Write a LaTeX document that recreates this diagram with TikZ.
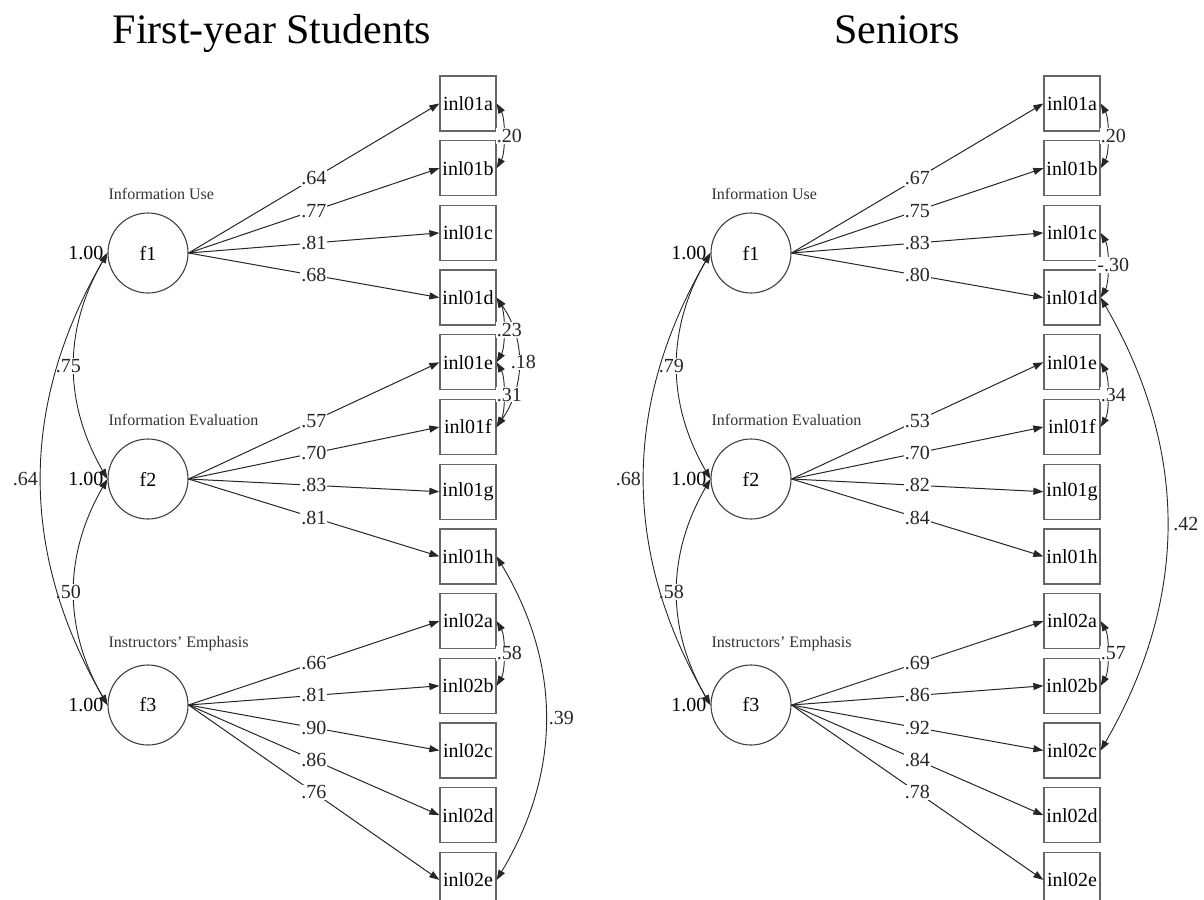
\documentclass[tikz,border=0pt]{standalone}
\usepackage{fontspec}
\setmainfont{Liberation Serif}
\usetikzlibrary{arrows.meta,positioning,calc}

\begin{document}
\begin{tikzpicture}[
  x=1pt, y=-1pt,
  font=\fontsize{20}{23}\selectfont,
  latent/.style={draw=black!75,circle,minimum size=80pt,inner sep=0pt,line width=1.1pt},
  ind/.style={draw=black!60,minimum width=56pt,minimum height=55pt,inner sep=0pt,line width=1.3pt,font=\fontsize{20}{23}\selectfont},
  load/.style={-{Triangle[length=10pt,width=7pt]},black!85,line width=1pt},
  cov/.style={{Triangle[length=10pt,width=7pt]}-{Triangle[length=10pt,width=7pt]},black!85,line width=0.9pt},
  est/.style={fill=white,inner sep=1pt},
  var/.style={inner sep=1pt},
  flabel/.style={font=\fontsize{16}{19}\selectfont,text=black!80,inner sep=1pt,anchor=south west},
  ttl/.style={font=\fontsize{42}{48}\selectfont,anchor=base},
]
\clip (0,0) rectangle (1204,899);

% titles
\node[ttl] (tfy) at (272,44) {First-year Students};
\node[ttl] (tsr) at (897,44) {Seniors};

% indicators
\foreach \n [count=\k from 0] in {01a,01b,01c,01d,01e,01f,01g,01h,02a,02b,02c,02d,02e} {
  \node[ind] (fy\n) at (468,{103.5+64.7*\k}) {inl\n};
  \node[ind] (sr\n) at (1072,{103.5+64.7*\k}) {inl\n};
}

% factors, first-year students
\node[latent] (fyf1) at (148,253) {f1};
\node[latent] (fyf2) at (148,479) {f2};
\node[latent] (fyf3) at (148,705) {f3};
\node[flabel] (fyl1) at ([yshift=12pt]fyf1.north -| fyf1.west) {Information Use};
\node[flabel] (fyl2) at ([yshift=12pt]fyf2.north -| fyf2.west) {Information Evaluation};
\node[flabel] (fyl3) at ([yshift=12pt]fyf3.north -| fyf3.west) {Instructors' Emphasis};
\node[var,left=3pt of fyf1.west] (fyv1) {1.00};
\node[var,left=3pt of fyf2.west] (fyv2) {1.00};
\node[var,left=3pt of fyf3.west] (fyv3) {1.00};

% factors, seniors
\node[latent] (srf1) at (751,253) {f1};
\node[latent] (srf2) at (751,479) {f2};
\node[latent] (srf3) at (751,705) {f3};
\node[flabel] (srl1) at ([yshift=12pt]srf1.north -| srf1.west) {Information Use};
\node[flabel] (srl2) at ([yshift=12pt]srf2.north -| srf2.west) {Information Evaluation};
\node[flabel] (srl3) at ([yshift=12pt]srf3.north -| srf3.west) {Instructors' Emphasis};
\node[var,left=3pt of srf1.west] (srv1) {1.00};
\node[var,left=3pt of srf2.west] (srv2) {1.00};
\node[var,left=3pt of srf3.west] (srv3) {1.00};

% loadings
\foreach \n/\v in {01a/.64,01b/.77,01c/.81,01d/.68}
  \draw[load] (fyf1.east) -- node[est]{\v} (fy\n.west);
\foreach \n/\v in {01e/.57,01f/.70,01g/.83,01h/.81}
  \draw[load] (fyf2.east) -- node[est]{\v} (fy\n.west);
\foreach \n/\v in {02a/.66,02b/.81,02c/.90,02d/.86,02e/.76}
  \draw[load] (fyf3.east) -- node[est]{\v} (fy\n.west);
\foreach \n/\v in {01a/.67,01b/.75,01c/.83,01d/.80}
  \draw[load] (srf1.east) -- node[est]{\v} (sr\n.west);
\foreach \n/\v in {01e/.53,01f/.70,01g/.82,01h/.84}
  \draw[load] (srf2.east) -- node[est]{\v} (sr\n.west);
\foreach \n/\v in {02a/.69,02b/.86,02c/.92,02d/.84,02e/.78}
  \draw[load] (srf3.east) -- node[est]{\v} (sr\n.west);

% factor covariances
\draw[cov] (fyf1.west) to[out=240,in=120] node[est,xshift=-6pt]{.75} (fyf2.west);
\draw[cov] (fyf2.west) to[out=240,in=120] node[est,xshift=-6pt]{.50} (fyf3.west);
\draw[cov] (fyf1.west) to[out=240,in=120] node[left,inner sep=3pt]{.64} (fyf3.west);
\draw[cov] (srf1.west) to[out=240,in=120] node[est,xshift=-6pt]{.79} (srf2.west);
\draw[cov] (srf2.west) to[out=240,in=120] node[est,xshift=-6pt]{.58} (srf3.west);
\draw[cov] (srf1.west) to[out=240,in=120] node[left,inner sep=3pt]{.68} (srf3.west);

% error covariances, first-year students
\draw[cov] (fy01a.east) to[out=-60,in=60,looseness=0.7] node[est,xshift=6pt]{.20} (fy01b.east);
\draw[cov] (fy01d.east) to[out=-55,in=55] node[est,xshift=5pt]{.18} (fy01f.east);
\draw[cov] (fy01d.east) to[out=-60,in=60,looseness=0.7] node[est,xshift=6pt]{.23} (fy01e.east);
\draw[cov] (fy01e.east) to[out=-60,in=60,looseness=0.7] node[est,xshift=6pt]{.31} (fy01f.east);
\draw[cov] (fy02a.east) to[out=-60,in=60,looseness=0.7] node[est,xshift=6pt]{.58} (fy02b.east);
\draw[cov] (fy01h.east) to[out=-59,in=59] node[right,inner sep=3pt]{.39} (fy02e.east);

% error covariances, seniors
\draw[cov] (sr01a.east) to[out=-60,in=60,looseness=0.7] node[est,xshift=6pt]{.20} (sr01b.east);
\draw[cov] (sr01c.east) to[out=-60,in=60,looseness=0.7] node[est,xshift=6pt]{-.30} (sr01d.east);
\draw[cov] (sr01e.east) to[out=-60,in=60,looseness=0.7] node[est,xshift=6pt]{.34} (sr01f.east);
\draw[cov] (sr02a.east) to[out=-60,in=60,looseness=0.7] node[est,xshift=6pt]{.57} (sr02b.east);
\draw[cov] (sr01d.east) to[out=-60,in=60] node[right,inner sep=6pt]{.42} (sr02c.east);
\end{tikzpicture}
\end{document}
